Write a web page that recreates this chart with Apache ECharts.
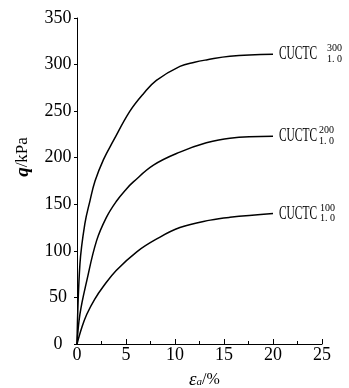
<!DOCTYPE html>
<html>
<head>
<meta charset="utf-8">
<script src="https://cdn.jsdelivr.net/npm/echarts@6/dist/echarts.min.js"></script>
<style>
  html, body { margin: 0; padding: 0; background: #fff; }
  #chart { width: 349px; height: 388px; }
</style>
</head>
<body>
<div id="chart"></div>
<script>
// axial strain (%) and deviator stress q (kPa)
const strain300 = [0, 0.3, 0.8, 1.33, 1.84, 2.7, 3.7, 5.4, 6.8, 8.1, 10.5, 12, 13.2, 15.6, 20];
const q300 = [0, 86, 129, 154, 175, 198, 218, 250, 269, 283, 298, 302.5, 305, 309, 311];
const strain200 = [0, 0.3, 1.0, 2.0, 3.0, 4.0, 5.0, 5.75, 7.8, 10.5, 13.2, 15.6, 20];
const q200 = [0, 32, 68, 111, 136, 153, 166, 174, 192, 206, 216, 221, 223];
const strain100 = [0, 0.5, 1.0, 1.8, 2.7, 4.0, 6.1, 8.0, 10.5, 13.6, 15.6, 20];
const q100 = [0, 18, 32, 48, 62, 79, 99, 112, 125, 133, 136, 140];

const supLabels = ['300', '200', '100'];
const subLabel = '1. 0';
const supGap = [10, 2, 3]; // space between CUCTC and the scripts

const serif = '"Liberation Serif", "DejaVu Serif", serif';
const chart = echarts.init(document.getElementById('chart'));

function pairs(xs, ys) {
  return xs.map((x, i) => [x, ys[i]]);
}

const curves = [pairs(strain300, q300), pairs(strain200, q200), pairs(strain100, q100)];

chart.setOption({
  animation: false,
  grid: { left: 77, right: 27, top: 18, bottom: 44, containLabel: false, outerBoundsMode: 'none' },
  xAxis: {
    type: 'value',
    min: 0, max: 25, interval: 5,
    name: '{e|ε}{a|a}{t|/%}',
    nameLocation: 'middle',
    nameGap: 26,
    nameTextStyle: {
      padding: [0, 0, 0, 10],
      rich: {
        e: { fontFamily: serif, fontStyle: 'italic', fontSize: 19, color: '#000' },
        a: { fontFamily: serif, fontStyle: 'italic', fontSize: 11, color: '#000', padding: [6, 0, 0, 0] },
        t: { fontFamily: serif, fontSize: 16, color: '#000' }
      }
    },
    axisLine: { lineStyle: { color: '#000', width: 1 } },
    axisTick: { inside: true, length: 5, lineStyle: { color: '#000' } },
    minorTick: { show: true, splitNumber: 2, length: 3, lineStyle: { color: '#000' } },
    axisLabel: { fontFamily: serif, fontSize: 18, color: '#000', margin: 2 },
    splitLine: { show: false }
  },
  yAxis: {
    type: 'value',
    min: 0, max: 350, interval: 50,
    axisLine: { show: true, lineStyle: { color: '#000', width: 1 } },
    axisTick: { show: true, length: 3, lineStyle: { color: '#000' } },
    axisLabel: { fontFamily: serif, fontSize: 18, color: '#000', margin: 19, align: 'center' },
    splitLine: { show: false }
  },
  series: curves.map(d => ({
    type: 'line',
    data: d,
    smooth: 0.4,
    showSymbol: false,
    lineStyle: { color: '#000', width: 1.5 }
  }))
});

// series labels: CUCTC with stacked super/subscripts, placed at each curve end
const graphics = [];
curves.forEach((d, i) => {
  const end = d[d.length - 1];
  const p = chart.convertToPixel({ seriesIndex: i }, end);
  const x0 = p[0] + 6;
  const yc = p[1];
  graphics.push({
    type: 'text', x: x0, y: yc, scaleX: 0.6,
    style: { text: 'CUCTC', font: '19px ' + serif, fill: '#000', verticalAlign: 'middle', align: 'left' }
  });
  graphics.push({
    type: 'text', x: x0 + 38 + supGap[i], y: yc - 5.5,
    style: { text: supLabels[i], font: '10px ' + serif, fill: '#000', verticalAlign: 'middle', align: 'left' }
  });
  graphics.push({
    type: 'text', x: x0 + 38 + supGap[i], y: yc + 5,
    style: { text: subLabel, font: '10px ' + serif, fill: '#000', verticalAlign: 'middle', align: 'left' }
  });
});

// y axis title
graphics.push({
  type: 'text', x: 23, y: 157, rotation: Math.PI / 2,
  style: {
    text: '{q|q}{t|/kPa}',
    align: 'center', verticalAlign: 'middle',
    rich: {
      q: { fontFamily: serif, fontStyle: 'italic', fontWeight: 'bold', fontSize: 19, fill: '#000' },
      t: { fontFamily: serif, fontSize: 17, fill: '#000' }
    }
  }
});

chart.setOption({ graphic: graphics });
</script>
</body>
</html>
